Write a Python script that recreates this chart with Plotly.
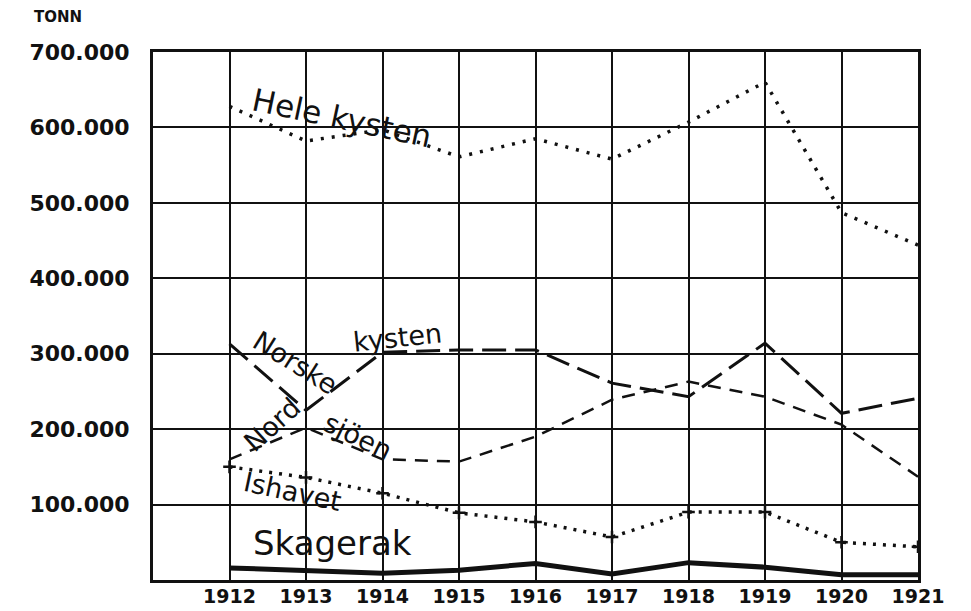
import plotly.graph_objects as go

years = [1912, 1913, 1914, 1915, 1916, 1917, 1918, 1919, 1920, 1921]
hele_kysten = [628000, 582000, 597000, 561000, 585000, 558000, 607000, 660000, 487000, 444000]
norske_kysten = [313000, 225000, 302000, 305000, 305000, 261000, 243000, 314000, 221000, 241000]
nordsjoen = [160000, 202000, 160000, 157000, 190000, 239000, 263000, 243000, 206000, 137000]
ishavet = [150000, 136000, 115000, 89000, 77000, 57000, 90000, 90000, 50000, 44000]
skagerak = [16000, 13000, 9000, 13000, 22000, 8000, 23000, 17000, 7000, 7000]

y_ticks = [100000, 200000, 300000, 400000, 500000, 600000, 700000]
y_tick_text = ["100.000", "200.000", "300.000", "400.000", "500.000", "600.000", "700.000"]
x_tick_text = [str(y) for y in years]

FONT = "DejaVu Sans"
INK = "#111111"

fig = go.Figure()

fig.add_trace(go.Scatter(x=years, y=hele_kysten, mode="lines", name="Hele kysten",
                         line=dict(color=INK, width=3.5, dash="3px,8px")))
fig.add_trace(go.Scatter(x=years, y=norske_kysten, mode="lines", name="Norske kysten",
                         line=dict(color=INK, width=3, dash="24px,9px")))
fig.add_trace(go.Scatter(x=years, y=nordsjoen, mode="lines", name="Nordsjöen",
                         line=dict(color=INK, width=2.5, dash="13px,9px")))
fig.add_trace(go.Scatter(x=years, y=ishavet, mode="lines+markers", name="Ishavet",
                         line=dict(color=INK, width=3.5, dash="3px,7px"),
                         marker=dict(symbol="cross-thin", size=9, line=dict(color=INK, width=2.5))))
fig.add_trace(go.Scatter(x=years, y=skagerak, mode="lines", name="Skagerak",
                         line=dict(color=INK, width=5)))

labels = [
    ("Hele kysten", 1913.47, 613000, 12, 31),
    ("Norske", 1912.86, 289000, 32, 27),
    ("kysten", 1914.2, 321000, -6, 27),
    ("Nord", 1912.56, 206000, -42, 27),
    ("sjöen", 1913.68, 190000, 26, 27),
    ("Ishavet", 1912.82, 117000, 12, 27),
    ("Skagerak", 1913.34, 49000, 0, 34),
]
for text, lx, ly, ang, size in labels:
    fig.add_annotation(x=lx, y=ly, text=text, showarrow=False, textangle=ang,
                       font=dict(family=FONT, size=size, color=INK))

fig.add_annotation(xref="paper", yref="paper", x=-0.158, y=1.066, xanchor="left", yanchor="middle",
                   text="TONN", showarrow=False,
                   font=dict(family=FONT, size=15, color=INK, weight="bold"))

fig.update_xaxes(range=[1911, 1921], tickmode="array", tickvals=years, ticktext=x_tick_text,
                 showgrid=True, gridcolor=INK, gridwidth=2,
                 showline=True, linecolor=INK, linewidth=3, mirror=True,
                 ticks="", ticklabelstandoff=-3, zeroline=False, automargin=False,
                 tickfont=dict(family=FONT, size=19, color=INK, weight="bold"))
fig.update_yaxes(range=[0, 700000], tickmode="array", tickvals=y_ticks, ticktext=y_tick_text,
                 showgrid=True, gridcolor=INK, gridwidth=2,
                 showline=True, linecolor=INK, linewidth=3, mirror=True,
                 ticks="", ticklabelstandoff=16, zeroline=False, automargin=False,
                 tickfont=dict(family=FONT, size=22, color=INK, weight="bold"))

# the page body adds an 8px offset; size the figure so the plot area matches the reference
fig.update_layout(width=963, height=603, showlegend=False,
                  margin=dict(l=145, r=53, t=44, b=31),
                  plot_bgcolor="white", paper_bgcolor="white")

fig.write_html("out.html")
